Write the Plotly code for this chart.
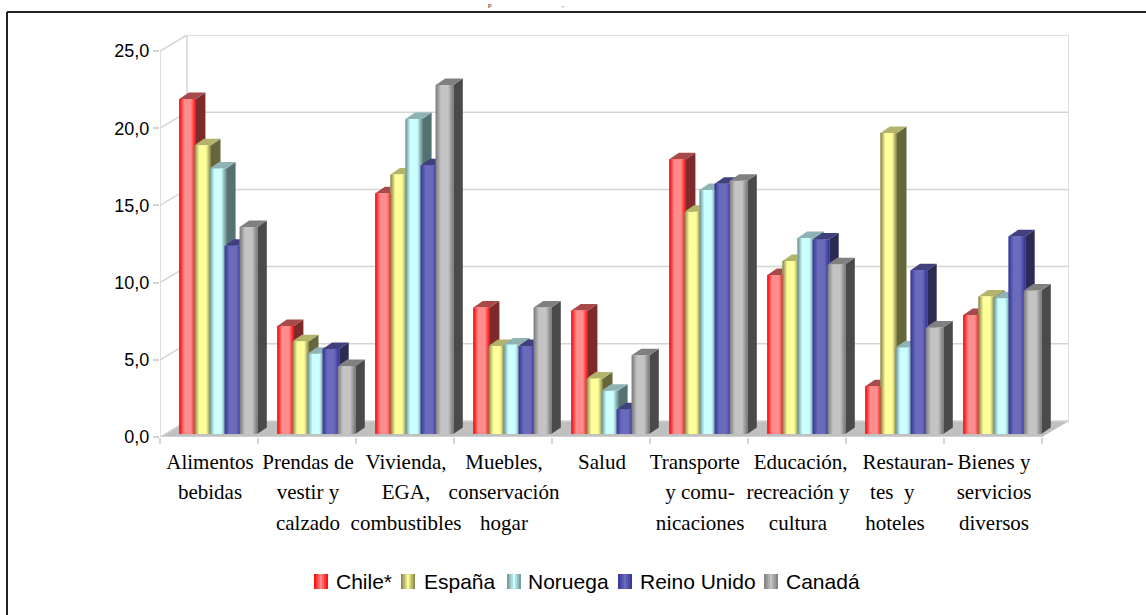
import plotly.graph_objects as go

NB = "\u00a0"
LABEL = '<span style="font-size:21px">{}</span>'
categories = ["Alimentos<br>bebidas", "Prendas de<br>vestir y<br>calzado", "Vivienda,<br>EGA,<br>combustibles",
              "Muebles,<br>conservación<br>hogar", "Salud", "Transporte" + NB * 2 + "<br>y comu-<br>nicaciones",
              NB + "Educación,<br>recreación y<br>cultura",
              "Restauran-<br>tes" + NB * 2 + "y" + NB * 6 + "<br>hoteles" + NB * 5,
              "Bienes y<br>servicios<br>diversos"]
label_shift_px = [1, 1, 1, 1, 1, 1, 1, 13, 1]
chile = [21.7, 7.0, 15.6, 8.2, 8.0, 17.8, 10.3, 3.1, 7.7]
espana = [18.7, 6.0, 16.8, 5.7, 3.6, 14.4, 11.2, 19.5, 8.9]
noruega = [17.2, 5.2, 20.4, 5.8, 2.8, 15.8, 12.7, 5.6, 8.8]
reino_unido = [12.2, 5.5, 17.4, 5.7, 1.6, 16.2, 12.6, 10.6, 12.8]
canada = [13.4, 4.4, 22.6, 8.2, 5.1, 16.4, 11.0, 6.9, 9.3]
y_ticks = [0, 5, 10, 15, 20, 25]

series = [
    ("Chile*", chile, "#ff0000", "#ff8c8c", "#a84a4a", "#7d2a2a", "#ff5050"),
    ("España", espana, "#7f7f4c", "#ffff99", "#b3b36b", "#66663d", "#e0e088"),
    ("Noruega", noruega, "#6b8f8f", "#ccffff", "#8fb3b3", "#557272", "#a6d8d8"),
    ("Reino Unido", reino_unido, "#333399", "#6b6bbb", "#40407f", "#2a2a52", "#5050a8"),
    ("Canadá", canada, "#7a7a7a", "#c4c4c4", "#808080", "#4a4a4a", "#a0a0a0"),
]
legend_swatch_px = [314, 401, 507, 618, 764]
legend_text_px = [335, 423, 527, 639, 785]

PX_X = 98.0      # pixels per category
PX_Y = 15.44     # pixels per value unit
L, T, R, B = 160, 35, 1069, 437
WALL_DX = 27 / PX_X
WALL_DY = 16 / PX_Y
SIDE_DX = 9.5 / PX_X
SIDE_DY = 6.5 / PX_Y
BASE = 3 / PX_Y
BAR_START = -0.5 + 19.3 / PX_X
BAR_STEP = 15.1 / PX_X
BAR_W = 16.6 / PX_X
X0, X1 = -0.5, -0.5 + 9
WALL = "#d4d4d4"


def px_x(p):
    return (p - L) / (R - L)


def px_y(p):
    return (B - p) / (B - T)


def mix(a, b, t):
    ca = [int(a[i:i + 2], 16) for i in (1, 3, 5)]
    cb = [int(b[i:i + 2], 16) for i in (1, 3, 5)]
    return "rgb(%d,%d,%d)" % tuple(round(x + (y - x) * t) for x, y in zip(ca, cb))


fig = go.Figure()

# floor
fig.add_trace(go.Scatter(x=[X0, X0 + WALL_DX, X1 + WALL_DX, X1, X0], y=[0, WALL_DY, WALL_DY, 0, 0],
                         mode="lines", fill="toself", fillcolor="#c0c0c0", line=dict(width=0),
                         showlegend=False, hoverinfo="skip"))

# walls and grid
wx, wy = [], []
for v in y_ticks:
    wx += [X0, X0 + WALL_DX, X1 + WALL_DX, None]
    wy += [v, v + WALL_DY, v + WALL_DY, None]
wx += [X0, X0, None, X0 + WALL_DX, X0 + WALL_DX, None, X1 + WALL_DX, X1 + WALL_DX, None, X0, X1]
wy += [0, y_ticks[-1], None, WALL_DY, y_ticks[-1] + WALL_DY, None, WALL_DY, y_ticks[-1] + WALL_DY, None, 0, 0]
fig.add_trace(go.Scatter(x=wx, y=wy, mode="lines", line=dict(color=WALL, width=1.5),
                         showlegend=False, hoverinfo="skip"))

# side and top faces
for s, (name, vals, edge, mid, top, side, _) in enumerate(series):
    for i, v in enumerate(vals):
        x_l = i + BAR_START + s * BAR_STEP
        x_r = x_l + (BAR_W if s < 4 else BAR_W + 1 / PX_X)
        y_t = v + BASE
        fig.add_trace(go.Scatter(x=[x_r, x_r + SIDE_DX, x_r + SIDE_DX, x_r, x_r],
                                 y=[BASE, BASE + SIDE_DY, y_t + SIDE_DY, y_t, BASE],
                                 mode="lines", fill="toself", fillcolor=side, line=dict(width=0),
                                 showlegend=False, hoverinfo="skip"))
        fig.add_trace(go.Scatter(x=[x_l, x_l + SIDE_DX, x_r + SIDE_DX, x_r, x_l],
                                 y=[y_t, y_t + SIDE_DY, y_t + SIDE_DY, y_t, y_t],
                                 mode="lines", fill="toself", fillcolor=top, line=dict(width=0),
                                 showlegend=False, hoverinfo="skip"))

# front faces: real bars, with the gradient painted over them
for s, (name, vals, edge, mid, top, side, swatch) in enumerate(series):
    w = BAR_W if s < 4 else BAR_W + 1 / PX_X
    fig.add_trace(go.Bar(x=[i + BAR_START + s * BAR_STEP + w / 2 for i in range(9)], y=vals,
                         base=BASE, width=w, name=name, marker=dict(color=swatch, line=dict(width=0)),
                         showlegend=False, xaxis="x2", yaxis="y2"))
for s, (name, vals, edge, mid, top, side, swatch) in enumerate(series):
    w = BAR_W if s < 4 else BAR_W + 1 / PX_X
    for i, v in enumerate(vals):
        x_l = i + BAR_START + s * BAR_STEP
        fig.add_trace(go.Scatter(x=[x_l, x_l + w, x_l + w, x_l, x_l],
                                 y=[BASE, BASE, v + BASE, v + BASE, BASE],
                                 mode="lines", fill="toself", line=dict(width=0),
                                 fillgradient=dict(type="horizontal",
                                                   colorscale=[[0, edge], [0.3, mid], [0.7, mid], [1, edge]]),
                                 showlegend=False, hoverinfo="skip", xaxis="x2", yaxis="y2"))

# frame
shapes = [dict(type="line", xref="paper", yref="paper", x0=px_x(7), x1=px_x(7), y0=px_y(12), y1=px_y(615),
               line=dict(color="#222222", width=2)),
          dict(type="line", xref="paper", yref="paper", x0=px_x(7), x1=px_x(1146), y0=px_y(12), y1=px_y(12),
               line=dict(color="#222222", width=2))]
annotations = []

# legend: gradient swatches and text
STRIPS = 7
for (name, vals, edge, mid, top, side, swatch), sx, tx in zip(series, legend_swatch_px, legend_text_px):
    for k in range(STRIPS):
        t = 1 - abs((k + 0.5) / STRIPS - 0.5) * 2
        shapes.append(dict(type="rect", xref="paper", yref="paper",
                           x0=px_x(sx + 14 * k / STRIPS), x1=px_x(sx + 14 * (k + 1) / STRIPS),
                           y0=px_y(574), y1=px_y(589), line=dict(width=0), fillcolor=mix(edge, mid, t)))
    annotations.append(dict(text=name, xref="paper", yref="paper", x=px_x(tx), y=px_y(581),
                            xanchor="left", yanchor="middle", showarrow=False, xshift=-1,
                            font=dict(family="Liberation Sans", size=21, color="black")))

# remains of the title at the very top of the picture, small enough to stay whole
for txt, tx in [("p", 490), (",", 563)]:
    annotations.append(dict(text=txt, xref="paper", yref="paper", x=px_x(tx), y=px_y(0),
                            xanchor="center", yanchor="top", showarrow=False, borderpad=0,
                            font=dict(family="Liberation Serif", size=7, color="black")))

x_range = [X0, X0 + (R - L) / PX_X]
y_range = [0, (B - T) / PX_Y]
fig.update_layout(
    width=1146, height=615, autosize=False,
    margin=dict(l=L, r=1146 - R, t=T, b=615 - B),
    paper_bgcolor="white", plot_bgcolor="white",
    barmode="overlay", separators=",.", hovermode=False, showlegend=False,
    font=dict(family="Liberation Sans", size=18, color="black"),
    xaxis=dict(range=x_range, tickmode="array",
               tickvals=[i + d / PX_X for i, d in enumerate(label_shift_px)],
               ticktext=["<br>".join(LABEL.format(p) for p in c.split("<br>")) for c in categories],
               showgrid=False, zeroline=False, showline=False, ticks="", ticklabelstandoff=7, tickangle=0,
               tickfont=dict(family="Liberation Serif", size=23.5, color="black"),
               minor=dict(tickmode="array", tickvals=[i - 0.5 for i in range(10)],
                          ticks="outside", ticklen=6, tickcolor=WALL, tickwidth=1.5, showgrid=False)),
    yaxis=dict(range=y_range, tickmode="array", tickvals=y_ticks, tickformat=".1f",
               showgrid=False, zeroline=False, showline=False, ticks="outside", ticklen=6,
               tickcolor=WALL, tickwidth=1.5, tickfont=dict(family="Liberation Sans", size=18)),
    xaxis2=dict(range=x_range, overlaying="x", visible=False),
    yaxis2=dict(range=y_range, overlaying="y", visible=False),
    shapes=shapes, annotations=annotations,
)
fig.write_html("out.html", post_script="document.body.style.margin='0';",
               config=dict(displayModeBar=False))
